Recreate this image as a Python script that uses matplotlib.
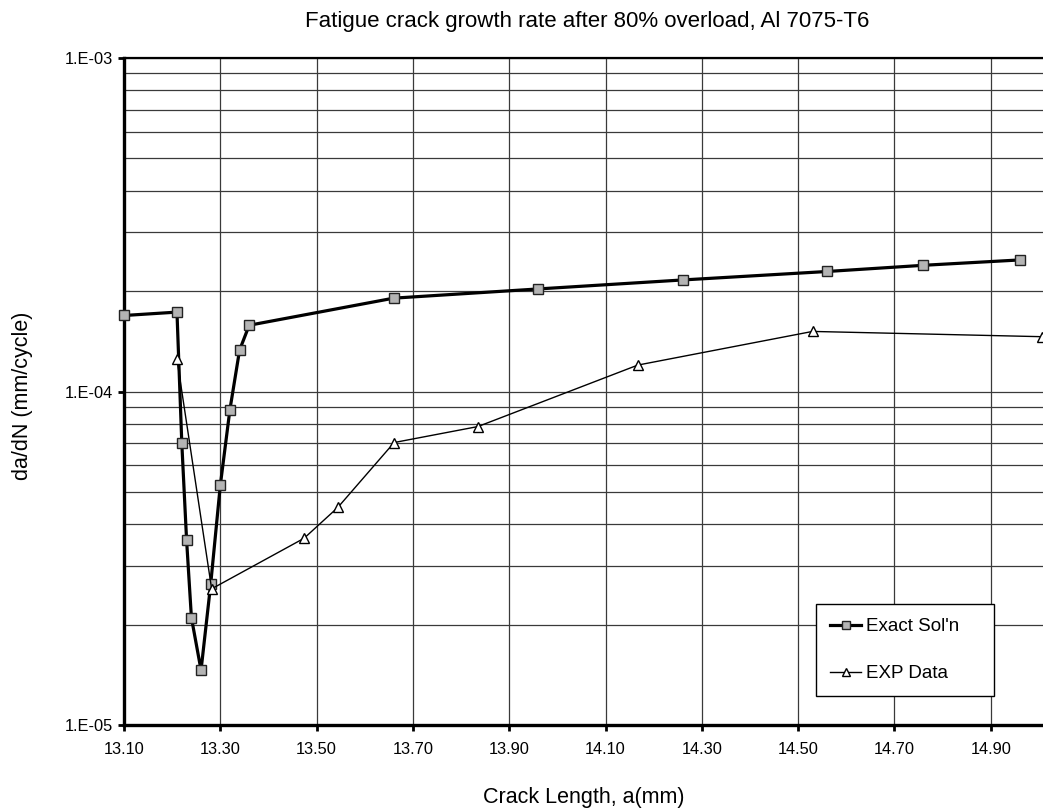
import matplotlib
matplotlib.use("Agg")
import matplotlib.pyplot as plt
from matplotlib.ticker import FixedLocator, LogLocator, NullFormatter

plt.rcParams['font.family'] = ['Liberation Sans', 'DejaVu Sans']

# Data
exact_x = [13.10, 13.21, 13.22, 13.23, 13.24, 13.26, 13.28, 13.30, 13.32, 13.34, 13.36,
           13.66, 13.96, 14.26, 14.56, 14.76, 14.96]
exact_y = [1.69e-4, 1.73e-4, 7.02e-5, 3.58e-5, 2.10e-5, 1.46e-5, 2.64e-5, 5.23e-5, 8.83e-5,
           1.33e-4, 1.58e-4, 1.905e-4, 2.03e-4, 2.16e-4, 2.29e-4, 2.39e-4, 2.48e-4]

exp_x = [13.21, 13.282, 13.474, 13.544, 13.661, 13.835, 14.167, 14.530, 15.006]
exp_y = [1.25e-4, 2.56e-5, 3.63e-5, 4.49e-5, 7.03e-5, 7.85e-5, 1.20e-4, 1.514e-4, 1.46e-4]

x_ticks = [13.10, 13.30, 13.50, 13.70, 13.90, 14.10, 14.30, 14.50, 14.70, 14.90]
x_tick_labels = ["13.10", "13.30", "13.50", "13.70", "13.90", "14.10", "14.30", "14.50", "14.70", "14.90"]
y_ticks = [1e-5, 1e-4, 1e-3]
y_tick_labels = ["1.E-05", "1.E-04", "1.E-03"]

W, H = 1043, 811
L, R, T, B = 124, 1043, 58, 725

fig = plt.figure(figsize=(W / 100, H / 100), dpi=100)
ax = fig.add_axes([L / W, 1 - B / H, (R - L) / W, (B - T) / H])

ax.set_yscale('log')
ax.set_xlim(13.10, 15.0086)
ax.set_ylim(1e-5, 1e-3)

ax.xaxis.set_major_locator(FixedLocator(x_ticks))
ax.set_xticklabels(x_tick_labels)
ax.yaxis.set_major_locator(FixedLocator(y_ticks))
ax.set_yticklabels(y_tick_labels)
ax.yaxis.set_minor_locator(LogLocator(base=10, subs=range(2, 10)))
ax.yaxis.set_minor_formatter(NullFormatter())

gridc = '#3a3a3a'
ax.grid(True, which='major', axis='both', color=gridc, linewidth=0.9)
ax.grid(True, which='minor', axis='y', color=gridc, linewidth=0.9)
ax.set_axisbelow(True)

ax.tick_params(axis='both', which='major', direction='out', length=4, width=2,
               labelsize=11.8, colors='black')
ax.tick_params(axis='x', which='major', pad=8)
ax.tick_params(axis='y', which='major', pad=4)
ax.tick_params(axis='y', which='minor', length=0)

for s in ['left', 'bottom']:
    ax.spines[s].set_linewidth(2.4)
ax.spines['top'].set_linewidth(1.6)
ax.spines['right'].set_visible(False)

ax.plot(exact_x, exact_y, color='black', linewidth=2.3, marker='s', markersize=6.5,
        markerfacecolor='#b4b4b4', markeredgecolor='#222222', markeredgewidth=1.0,
        label="Exact Sol'n", zorder=3, clip_on=False)
ax.plot(exp_x, exp_y, color='black', linewidth=1.0, marker='^', markersize=7.5,
        markerfacecolor='white', markeredgecolor='black', markeredgewidth=1.0,
        label="EXP Data", zorder=4)

fig.text((L + R) / 2 / W + 0.004, 1 - 21 / H,
         "Fatigue crack growth rate after 80% overload, Al 7075-T6",
         fontsize=16, ha='center', va='center')
fig.text((L + R) / 2 / W, 1 - 798 / H, "Crack Length, a(mm)",
         fontsize=15.5, ha='center', va='center')
fig.text(23 / W, 1 - 396 / H, "da/dN (mm/cycle)",
         fontsize=15.5, ha='center', va='center', rotation=90)

leg = ax.legend(loc='upper left',
                bbox_to_anchor=((816 - L) / (R - L), (B - 604) / (B - T),
                                (994 - 816) / (R - L), 0),
                mode='expand', fontsize=13.5, frameon=True, fancybox=False,
                borderaxespad=0, handlelength=1.65, handletextpad=0.27,
                labelspacing=1.6, borderpad=0.75, markerscale=0.8)
leg.get_frame().set_edgecolor('black')
leg.get_frame().set_linewidth(1.0)
leg.get_frame().set_alpha(1)

fig.savefig("out.png", dpi=100)
